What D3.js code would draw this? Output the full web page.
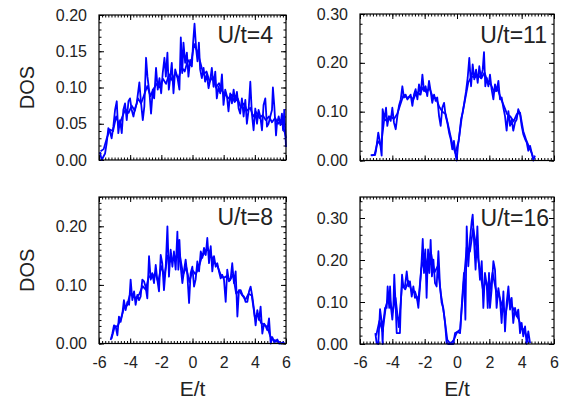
<!DOCTYPE html>
<html>
<head>
<meta charset="utf-8">
<script src="https://cdn.jsdelivr.net/npm/d3@7/dist/d3.min.js"></script>
<style>
  html, body { margin: 0; padding: 0; background: #fff; }
  svg { display: block; font-family: "Liberation Sans", Arial, Helvetica, sans-serif; }
</style>
</head>
<body>
<svg id="chart" width="572" height="399"></svg>
<script>
// Energy axis ticks shared by every panel
const xTicks = [-6, -4, -2, 0, 2, 4, 6];

// Panel titles
const titles = ["U/t=4", "U/t=11", "U/t=8", "U/t=16"];

// y-axis tick labels per panel
const yTicksU4 = [0, 0.05, 0.10, 0.15, 0.20];
const yTicksU11 = [0, 0.10, 0.20, 0.30];
const yTicksU8 = [0, 0.10, 0.20];
const yTicksU16 = [0, 0.10, 0.20, 0.30];

// Density of states, [E/t, DOS]; two traces per panel
const dosU4a = [[-5.94,0.011],[-5.83,0.000],[-5.61,0.009],[-5.51,0.023],[-5.40,0.044],[-5.29,0.039],[-5.19,0.030],[-5.08,0.046],[-4.97,0.069],[-4.86,0.081],[-4.76,0.037],[-4.65,0.055],[-4.54,0.037],[-4.44,0.069],[-4.33,0.078],[-4.22,0.055],[-4.11,0.081],[-4.01,0.085],[-3.90,0.069],[-3.79,0.060],[-3.69,0.071],[-3.58,0.078],[-3.41,0.107],[-3.32,0.083],[-3.19,0.055],[-3.09,0.074],[-2.98,0.141],[-2.89,0.115],[-2.76,0.092],[-2.66,0.064],[-2.55,0.097],[-2.46,0.085],[-2.34,0.127],[-2.23,0.097],[-2.12,0.113],[-2.01,0.092],[-1.91,0.120],[-1.80,0.141],[-1.71,0.115],[-1.61,0.148],[-1.52,0.097],[-1.44,0.111],[-1.33,0.134],[-1.22,0.092],[-1.11,0.125],[-0.96,0.113],[-0.84,0.097],[-0.75,0.169],[-0.66,0.120],[-0.58,0.162],[-0.47,0.134],[-0.36,0.148],[-0.26,0.115],[-0.15,0.138],[-0.04,0.129],[0.04,0.162],[0.13,0.188],[0.24,0.152],[0.32,0.136],[0.41,0.162],[0.49,0.125],[0.60,0.113],[0.71,0.127],[0.81,0.108],[0.92,0.118],[1.03,0.099],[1.14,0.111],[1.24,0.127],[1.35,0.101],[1.46,0.122],[1.56,0.085],[1.67,0.101],[1.78,0.092],[1.89,0.118],[1.99,0.076],[2.10,0.097],[2.21,0.088],[2.31,0.067],[2.42,0.092],[2.53,0.078],[2.64,0.097],[2.74,0.081],[2.85,0.094],[2.96,0.071],[3.06,0.064],[3.17,0.085],[3.28,0.060],[3.39,0.083],[3.49,0.050],[3.60,0.069],[3.71,0.108],[3.81,0.064],[3.92,0.041],[4.03,0.071],[4.14,0.050],[4.24,0.069],[4.35,0.060],[4.46,0.041],[4.56,0.076],[4.67,0.085],[4.78,0.046],[4.88,0.050],[4.99,0.060],[5.10,0.069],[5.16,0.100],[5.25,0.074],[5.36,0.034],[5.42,0.050],[5.53,0.060],[5.64,0.048],[5.74,0.064],[5.81,0.041],[5.89,0.069],[6.00,0.018]];
const dosU4b = [[-5.9,0.012],[-5.7,0.015],[-5.5,0.030],[-5.3,0.042],[-5.1,0.040],[-4.9,0.060],[-4.7,0.048],[-4.5,0.060],[-4.3,0.070],[-4.1,0.065],[-3.9,0.075],[-3.7,0.068],[-3.5,0.085],[-3.3,0.078],[-3.1,0.090],[-2.9,0.102],[-2.7,0.088],[-2.5,0.098],[-2.3,0.105],[-2.1,0.100],[-1.9,0.112],[-1.7,0.105],[-1.5,0.118],[-1.3,0.110],[-1.1,0.120],[-0.9,0.112],[-0.7,0.128],[-0.5,0.122],[-0.3,0.138],[-0.1,0.132],[0.1,0.160],[0.3,0.150],[0.5,0.135],[0.7,0.118],[0.9,0.122],[1.1,0.108],[1.3,0.115],[1.5,0.100],[1.7,0.106],[1.9,0.095],[2.1,0.090],[2.3,0.085],[2.5,0.090],[2.7,0.080],[2.9,0.085],[3.1,0.072],[3.3,0.078],[3.5,0.068],[3.7,0.072],[3.9,0.060],[4.1,0.066],[4.3,0.058],[4.5,0.062],[4.7,0.055],[4.9,0.060],[5.1,0.052],[5.3,0.058],[5.5,0.050],[5.7,0.055],[5.9,0.040],[6.0,0.030]];

const dosU11a = [[-5.34,0.011],[-5.07,0.011],[-5.01,0.020],[-4.87,0.057],[-4.76,0.037],[-4.66,0.010],[-4.60,0.105],[-4.49,0.084],[-4.39,0.108],[-4.31,0.071],[-4.21,0.091],[-4.10,0.081],[-4.00,0.108],[-3.90,0.078],[-3.79,0.064],[-3.69,0.091],[-3.59,0.112],[-3.48,0.125],[-3.38,0.152],[-3.28,0.129],[-3.18,0.135],[-3.07,0.125],[-2.97,0.129],[-2.87,0.135],[-2.76,0.112],[-2.66,0.135],[-2.56,0.146],[-2.45,0.125],[-2.35,0.156],[-2.25,0.135],[-2.14,0.176],[-2.04,0.142],[-1.94,0.152],[-1.84,0.132],[-1.73,0.163],[-1.63,0.142],[-1.53,0.118],[-1.42,0.135],[-1.32,0.122],[-1.22,0.129],[-1.11,0.091],[-1.01,0.071],[-0.91,0.108],[-0.80,0.118],[-0.70,0.091],[-0.60,0.078],[-0.49,0.057],[-0.39,0.044],[-0.29,0.023],[-0.19,0.040],[-0.08,0.010],[-0.02,0.000],[0.06,0.030],[0.14,0.050],[0.25,0.084],[0.35,0.098],[0.45,0.118],[0.56,0.142],[0.66,0.169],[0.76,0.210],[0.87,0.152],[0.97,0.197],[1.07,0.166],[1.18,0.186],[1.28,0.159],[1.38,0.193],[1.48,0.169],[1.59,0.186],[1.67,0.222],[1.75,0.152],[1.84,0.169],[1.94,0.152],[2.04,0.176],[2.14,0.146],[2.25,0.125],[2.35,0.156],[2.45,0.142],[2.56,0.163],[2.66,0.125],[2.76,0.129],[2.87,0.108],[2.97,0.091],[3.07,0.061],[3.18,0.101],[3.28,0.071],[3.38,0.084],[3.48,0.061],[3.59,0.078],[3.69,0.084],[3.79,0.105],[3.90,0.095],[4.00,0.071],[4.10,0.054],[4.21,0.044],[4.31,0.037],[4.41,0.020],[4.52,0.030],[4.62,0.016],[4.72,0.000],[4.82,0.010]];
const dosU11b = [[-5.3,0.010],[-5.1,0.012],[-4.9,0.040],[-4.7,0.030],[-4.5,0.085],[-4.3,0.080],[-4.1,0.090],[-3.9,0.085],[-3.7,0.095],[-3.5,0.115],[-3.3,0.135],[-3.1,0.128],[-2.9,0.132],[-2.7,0.125],[-2.5,0.140],[-2.3,0.135],[-2.1,0.150],[-1.9,0.140],[-1.7,0.148],[-1.5,0.130],[-1.3,0.128],[-1.1,0.110],[-0.9,0.100],[-0.7,0.095],[-0.5,0.065],[-0.3,0.035],[-0.1,0.015],[0.1,0.040],[0.3,0.090],[0.5,0.125],[0.7,0.160],[0.9,0.172],[1.1,0.170],[1.3,0.175],[1.5,0.168],[1.7,0.180],[1.9,0.160],[2.1,0.155],[2.3,0.140],[2.5,0.148],[2.7,0.128],[2.9,0.112],[3.1,0.095],[3.3,0.090],[3.5,0.080],[3.7,0.095],[3.9,0.098],[4.1,0.060],[4.3,0.040],[4.5,0.025],[4.7,0.008]];

const dosU8a = [[-5.25,0.006],[-5.14,0.017],[-5.04,0.031],[-4.93,0.029],[-4.82,0.014],[-4.72,0.046],[-4.61,0.037],[-4.50,0.051],[-4.40,0.074],[-4.29,0.057],[-4.18,0.071],[-4.07,0.066],[-3.97,0.109],[-3.86,0.074],[-3.75,0.089],[-3.65,0.066],[-3.54,0.083],[-3.43,0.074],[-3.33,0.080],[-3.22,0.109],[-3.11,0.106],[-3.01,0.097],[-2.90,0.077],[-2.79,0.149],[-2.68,0.109],[-2.58,0.120],[-2.47,0.103],[-2.36,0.134],[-2.26,0.109],[-2.15,0.089],[-2.04,0.151],[-1.94,0.137],[-1.83,0.091],[-1.72,0.129],[-1.61,0.200],[-1.51,0.114],[-1.40,0.160],[-1.29,0.131],[-1.19,0.157],[-1.08,0.126],[-0.97,0.191],[-0.91,0.126],[-0.84,0.177],[-0.76,0.131],[-0.65,0.103],[-0.55,0.123],[-0.44,0.143],[-0.33,0.117],[-0.22,0.069],[-0.12,0.120],[-0.01,0.131],[0.10,0.097],[0.20,0.109],[0.31,0.140],[0.42,0.123],[0.53,0.157],[0.63,0.146],[0.74,0.163],[0.85,0.151],[0.95,0.180],[1.06,0.137],[1.17,0.166],[1.27,0.123],[1.38,0.149],[1.49,0.131],[1.59,0.137],[1.70,0.123],[1.81,0.111],[1.91,0.117],[2.02,0.109],[2.13,0.071],[2.23,0.126],[2.34,0.106],[2.45,0.111],[2.55,0.137],[2.66,0.103],[2.77,0.123],[2.88,0.046],[2.98,0.091],[3.09,0.091],[3.20,0.083],[3.30,0.080],[3.41,0.071],[3.52,0.071],[3.63,0.089],[3.73,0.097],[3.84,0.080],[3.95,0.057],[4.05,0.031],[4.16,0.057],[4.27,0.040],[4.37,0.063],[4.48,0.017],[4.59,0.034],[4.70,0.029],[4.80,0.023],[4.91,0.043],[5.02,0.000],[5.12,0.011],[5.23,0.003],[5.34,0.003],[5.44,0.007],[5.55,0.000],[5.66,0.000],[5.80,0.002],[5.90,0.000]];
const dosU8b = [[-5.2,0.008],[-5.0,0.028],[-4.8,0.030],[-4.6,0.042],[-4.4,0.060],[-4.2,0.065],[-4.0,0.085],[-3.8,0.080],[-3.6,0.078],[-3.4,0.085],[-3.2,0.098],[-3.0,0.092],[-2.8,0.115],[-2.6,0.112],[-2.4,0.120],[-2.2,0.105],[-2.0,0.132],[-1.8,0.115],[-1.6,0.150],[-1.4,0.140],[-1.2,0.145],[-1.0,0.150],[-0.8,0.148],[-0.6,0.118],[-0.4,0.130],[-0.2,0.105],[0.0,0.125],[0.2,0.118],[0.4,0.130],[0.6,0.148],[0.8,0.155],[1.0,0.162],[1.2,0.150],[1.4,0.138],[1.6,0.132],[1.8,0.118],[2.0,0.112],[2.2,0.115],[2.4,0.108],[2.6,0.118],[2.8,0.085],[3.0,0.090],[3.2,0.082],[3.4,0.075],[3.6,0.085],[3.8,0.082],[4.0,0.045],[4.2,0.050],[4.4,0.035],[4.6,0.032],[4.8,0.028],[5.0,0.012],[5.2,0.006],[5.4,0.005],[5.6,0.002]];

const dosU16a = [[-5.05,0.026],[-4.97,0.002],[-4.87,0.000],[-4.76,0.083],[-4.66,0.054],[-4.60,0.000],[-4.56,0.050],[-4.45,0.086],[-4.35,0.086],[-4.29,0.137],[-4.19,0.086],[-4.14,0.137],[-4.08,0.086],[-4.00,0.058],[-3.94,0.086],[-3.88,0.165],[-3.79,0.086],[-3.73,0.026],[-3.63,0.026],[-3.53,0.026],[-3.48,0.090],[-3.40,0.165],[-3.32,0.137],[-3.22,0.137],[-3.11,0.173],[-3.01,0.137],[-2.91,0.149],[-2.80,0.113],[-2.70,0.137],[-2.60,0.110],[-2.49,0.113],[-2.39,0.086],[-2.29,0.137],[-2.19,0.197],[-2.12,0.250],[-2.04,0.169],[-1.96,0.225],[-1.88,0.110],[-1.79,0.225],[-1.71,0.169],[-1.63,0.248],[-1.55,0.161],[-1.46,0.201],[-1.36,0.145],[-1.26,0.137],[-1.15,0.221],[-1.05,0.137],[-0.95,0.098],[-0.85,0.086],[-0.74,0.050],[-0.64,0.002],[-0.54,0.000],[-0.43,0.000],[-0.33,0.000],[-0.23,0.000],[-0.12,0.026],[-0.02,0.028],[0.08,0.028],[0.19,0.026],[0.25,0.066],[0.33,0.113],[0.43,0.169],[0.52,0.058],[0.60,0.280],[0.70,0.185],[0.80,0.248],[0.91,0.292],[0.97,0.308],[1.05,0.248],[1.15,0.177],[1.26,0.280],[1.34,0.197],[1.42,0.153],[1.53,0.197],[1.63,0.086],[1.73,0.169],[1.84,0.141],[1.90,0.086],[1.98,0.169],[2.04,0.086],[2.14,0.129],[2.25,0.197],[2.35,0.177],[2.45,0.086],[2.56,0.133],[2.66,0.106],[2.76,0.050],[2.87,0.125],[2.97,0.030],[3.07,0.098],[3.18,0.137],[3.28,0.082],[3.38,0.110],[3.48,0.050],[3.59,0.086],[3.69,0.066],[3.79,0.082],[3.90,0.026],[4.00,0.050],[4.10,0.018],[4.21,0.042],[4.31,0.000],[4.41,0.030],[4.52,0.002]];
const dosU16b = [[-5.0,0.020],[-4.8,0.055],[-4.6,0.030],[-4.4,0.090],[-4.2,0.115],[-4.0,0.075],[-3.8,0.110],[-3.6,0.040],[-3.4,0.140],[-3.2,0.130],[-3.0,0.150],[-2.8,0.125],[-2.6,0.125],[-2.4,0.100],[-2.2,0.180],[-2.0,0.210],[-1.8,0.180],[-1.6,0.215],[-1.4,0.170],[-1.2,0.185],[-1.0,0.120],[-0.8,0.070],[-0.6,0.010],[-0.4,0.000],[-0.2,0.010],[0.0,0.028],[0.2,0.035],[0.4,0.140],[0.6,0.230],[0.8,0.220],[1.0,0.275],[1.2,0.230],[1.4,0.180],[1.6,0.130],[1.8,0.150],[2.0,0.120],[2.2,0.170],[2.4,0.130],[2.6,0.115],[2.8,0.090],[3.0,0.070],[3.2,0.115],[3.4,0.090],[3.6,0.075],[3.8,0.060],[4.0,0.040],[4.2,0.030],[4.4,0.005]];

// Panel frames and axis settings
const panels = [
  { title: titles[0], series: [dosU4a, dosU4b],   yMax: 0.20, yTicks: yTicksU4,  yMinor: 0.01, left: 99,  right: 286, top: 15,  bottom: 160, xLabels: false, titleRight: 273, titleBase: 43 },
  { title: titles[1], series: [dosU11a, dosU11b], yMax: 0.30, yTicks: yTicksU11, yMinor: 0.02, left: 360, right: 554, top: 14,  bottom: 160.5, xLabels: false, titleRight: 547, titleBase: 43 },
  { title: titles[2], series: [dosU8a, dosU8b],   yMax: 0.25, yTicks: yTicksU8,  yMinor: 0.01, left: 99,  right: 286, top: 197, bottom: 343.5, xLabels: true, titleRight: 273, titleBase: 225 },
  { title: titles[3], series: [dosU16a, dosU16b], yMax: 0.35, yTicks: yTicksU16, yMinor: 0.02, left: 360, right: 554, top: 197, bottom: 344, xLabels: true, titleRight: 549, titleBase: 226 }
];

const svg = d3.select("#chart");
const majorLen = 5, minorLen = 2.5;

// evenly spaced tick positions from a to b, never beyond b
function cleanRange(a, b, step) {
  const n = Math.floor((b - a) / step + 1e-6);
  return d3.range(n + 1).map(i => +(a + i * step).toFixed(4));
}

panels.forEach(p => {
  const x = d3.scaleLinear().domain([-6, 6]).range([p.left, p.right]);
  const y = d3.scaleLinear().domain([0, p.yMax]).range([p.bottom, p.top]);
  const g = svg.append("g");

  const xMinor = cleanRange(-6, 6, 0.2);
  const yMinor = cleanRange(0, p.yMax, p.yMinor);

  const addAxis = (axis, tx, ty, cls) => {
    const a = g.append("g").attr("class", cls)
      .attr("transform", `translate(${tx},${ty})`).call(axis);
    a.select(".domain").remove();
    a.selectAll("line").attr("stroke", "#000").attr("stroke-width", 1);
    return a;
  };

  // minor ticks on all four sides
  addAxis(d3.axisBottom(x).tickValues(xMinor).tickSize(-minorLen).tickFormat(""), 0, p.bottom, "xminor");
  addAxis(d3.axisTop(x).tickValues(xMinor).tickSize(-minorLen).tickFormat(""), 0, p.top, "xminor");
  addAxis(d3.axisLeft(y).tickValues(yMinor).tickSize(-minorLen).tickFormat(""), p.left, 0, "yminor");
  addAxis(d3.axisRight(y).tickValues(yMinor).tickSize(-minorLen).tickFormat(""), p.right, 0, "yminor");

  // major ticks
  const xb = addAxis(d3.axisBottom(x).tickValues(xTicks).tickSize(-majorLen).tickPadding(13)
      .tickFormat(p.xLabels ? (d => String(d)) : ""), 0, p.bottom, "xmajor");
  addAxis(d3.axisTop(x).tickValues(xTicks).tickSize(-majorLen).tickFormat(""), 0, p.top, "xmajor");
  const yl = addAxis(d3.axisLeft(y).tickValues(p.yTicks).tickSize(-majorLen).tickPadding(12)
      .tickFormat(d3.format(".2f")), p.left, 0, "ymajor");
  addAxis(d3.axisRight(y).tickValues(p.yTicks).tickSize(-majorLen).tickFormat(""), p.right, 0, "ymajor");

  [xb, yl].forEach(a => a.selectAll("text")
    .attr("fill", "#222").style("font-size", "16px")
    .style("font-family", "'Liberation Sans', Arial, Helvetica, sans-serif"));

  // DOS traces
  const line = d3.line().x(d => x(d[0])).y(d => y(d[1]));
  p.series.forEach(s => {
    g.append("path").datum(s)
      .attr("d", line)
      .attr("fill", "none")
      .attr("stroke", "#0000ff")
      .attr("stroke-width", 1.8)
      .attr("stroke-linejoin", "round");
  });

  // frame
  g.append("rect")
    .attr("x", p.left).attr("y", p.top)
    .attr("width", p.right - p.left).attr("height", p.bottom - p.top)
    .attr("fill", "none").attr("stroke", "#000").attr("stroke-width", 1.2);

  // panel title
  g.append("text")
    .attr("x", p.titleRight).attr("y", p.titleBase)
    .attr("text-anchor", "end")
    .attr("fill", "#222")
    .style("font-size", "23px")
    .text(p.title);
});

// axis titles
const yTitleRows = [[panels[0].top, panels[0].bottom], [panels[2].top, panels[2].bottom]];
yTitleRows.forEach(([t, b]) => {
  svg.append("text")
    .attr("transform", `translate(34,${(t + b) / 2}) rotate(-90)`)
    .attr("text-anchor", "middle")
    .attr("fill", "#222")
    .style("font-size", "20px")
    .text("DOS");
});

[panels[2], panels[3]].forEach(p => {
  svg.append("text")
    .attr("x", (p.left + p.right) / 2).attr("y", 396)
    .attr("text-anchor", "middle")
    .attr("fill", "#222")
    .style("font-size", "21px")
    .text("E/t");
});
</script>
</body>
</html>
